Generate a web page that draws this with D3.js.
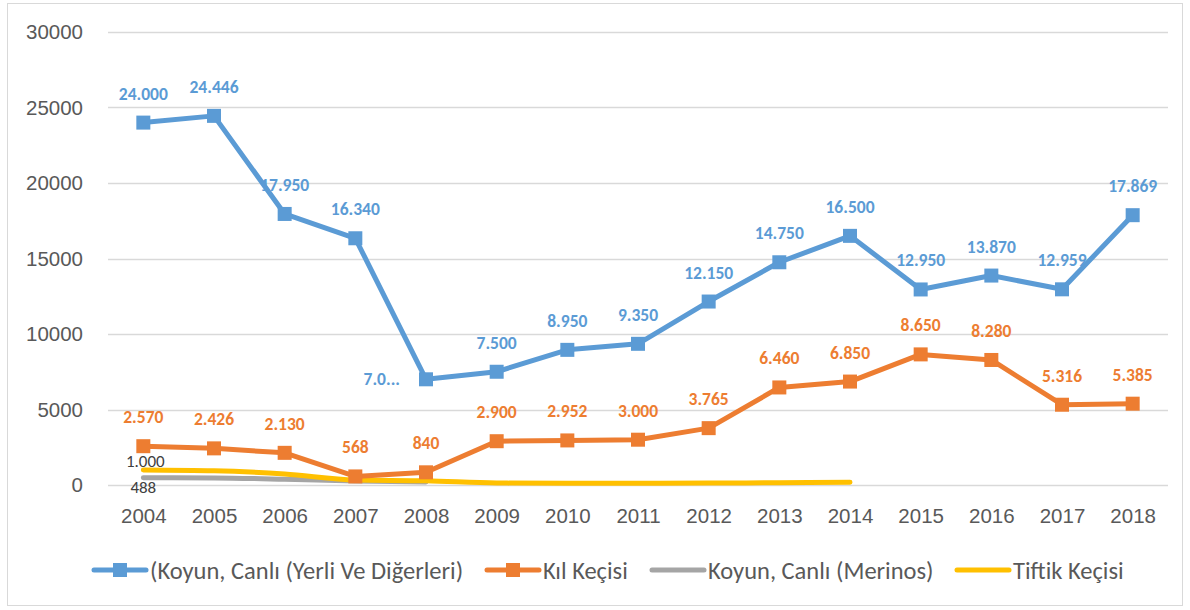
<!DOCTYPE html>
<html>
<head>
<meta charset="utf-8">
<script src="https://cdn.jsdelivr.net/npm/d3@7"></script>
<style>
  body { margin: 0; background: #fff; }
  svg { font-family: Calibri, Carlito, Lato, "Open Sans", sans-serif; }
</style>
</head>
<body>
<div id="chart"></div>
<script>

var years = ['2004','2005','2006','2007','2008','2009','2010','2011','2012','2013','2014','2015','2016','2017','2018'];
var yerli = [24000,24446,17950,16340,7000,7500,8950,9350,12150,14750,16500,12950,13870,12959,17869];
var kil = [2570,2426,2130,568,840,2900,2952,3000,3765,6460,6850,8650,8280,5316,5385];
var merinos = [488,470,380,260,200,null,null,null,null,null,null,null,null,null,null];
var tiftik = [1000,950,730,330,280,130,110,110,130,150,180,null,null,null,null];
var yTicks = [0,5000,10000,15000,20000,25000,30000];
var seriesNames = ['(Koyun, Canlı (Yerli Ve Diğerleri)','Kıl Keçisi','Koyun, Canlı (Merinos)','Tiftik Keçisi'];

var width = 1190,
	height = 610,
	plot = { left: 108, right: 1168, top: 32, bottom: 485 };

var fmt = d3.formatLocale({ decimal: ',', thousands: '.', grouping: [3], currency: ['', ''] }).format(',d');

var x = d3.scalePoint().domain(years).range([plot.left, plot.right]).padding(0.5);
var y = d3.scaleLinear().domain([0, 30000]).range([plot.bottom, plot.top]);

var svg = d3.select('#chart').append('svg')
	.attr('width', width)
	.attr('height', height);

svg.append('rect')
	.attr('x', 7.5).attr('y', 3.5)
	.attr('width', 1175).attr('height', 602)
	.attr('fill', '#fff').attr('stroke', '#d9d9d9');

// gridlines
svg.append('g').selectAll('line')
	.data(yTicks)
	.enter().append('line')
	.attr('x1', plot.left).attr('x2', plot.right)
	.attr('y1', function(d){ return Math.round(y(d)) + 0.5; })
	.attr('y2', function(d){ return Math.round(y(d)) + 0.5; })
	.attr('stroke', '#d9d9d9').attr('stroke-width', 1.5);

// y axis labels
var yAxis = svg.append('g')
	.attr('transform', 'translate(' + (plot.left - 25) + ',0)')
	.call(d3.axisLeft(y).tickValues(yTicks).tickSize(0).tickPadding(0).tickFormat(d3.format('d')));
yAxis.select('.domain').remove();
yAxis.selectAll('text').attr('font-size', 20.5).attr('fill', '#595959').attr('font-family', null);

// x axis labels
var xAxis = svg.append('g')
	.attr('transform', 'translate(0,' + (plot.bottom + 23) + ')')
	.call(d3.axisBottom(x).tickSize(0).tickPadding(0));
xAxis.select('.domain').remove();
xAxis.selectAll('text').attr('font-size', 20.5).attr('fill', '#595959').attr('font-family', null);

var line = d3.line()
	.defined(function(d){ return d != null; })
	.x(function(d, i){ return x(years[i]); })
	.y(function(d){ return y(d); });

var smooth = d3.line()
	.defined(function(d){ return d != null; })
	.curve(d3.curveMonotoneX)
	.x(function(d, i){ return x(years[i]); })
	.y(function(d){ return y(d); });

var series = [
	{ values: yerli, color: '#5b9bd5', marker: true, path: line },
	{ values: kil, color: '#ed7d31', marker: true, path: line },
	{ values: merinos, color: '#a5a5a5', marker: false, path: smooth },
	{ values: tiftik, color: '#ffc000', marker: false, path: smooth }
];

// draw order: gray, yellow under orange & blue
[2, 3, 1, 0].forEach(function(k){
	var s = series[k];
	svg.append('path')
		.attr('d', s.path(s.values))
		.attr('fill', 'none')
		.attr('stroke', s.color)
		.attr('stroke-width', 5)
		.attr('stroke-linecap', 'round')
		.attr('stroke-linejoin', 'round');
	if (s.marker) {
		svg.append('g').selectAll('rect')
			.data(s.values)
			.enter().append('rect')
			.attr('x', function(d, i){ return x(years[i]) - 7; })
			.attr('y', function(d){ return y(d) - 7; })
			.attr('width', 14).attr('height', 14)
			.attr('fill', s.color);
	}
});

// data labels
[0, 1].forEach(function(k){
	var s = series[k];
	svg.append('g').selectAll('text')
		.data(s.values)
		.enter().append('text')
		.attr('x', function(d, i){ return (k === 0 && i === 4) ? x(years[i]) - 26 : x(years[i]); })
		.attr('y', function(d, i){ return (k === 0 && i === 4) ? y(d) + 6 : y(d) - 23; })
		.attr('text-anchor', function(d, i){ return (k === 0 && i === 4) ? 'end' : 'middle'; })
		.attr('font-size', 17.5).attr('font-weight', 'bold')
		.attr('fill', s.color)
		.text(function(d, i){ return (k === 0 && i === 4) ? '7.0...' : fmt(d); });
});

svg.append('text')
	.attr('x', x(years[0]) + 2).attr('y', y(tiftik[0]) - 3)
	.attr('text-anchor', 'middle').attr('font-size', 17).attr('fill', '#404040')
	.text(fmt(tiftik[0]));
svg.append('text')
	.attr('x', x(years[0])).attr('y', y(merinos[0]) + 15)
	.attr('text-anchor', 'middle').attr('font-size', 17).attr('fill', '#404040')
	.text(fmt(merinos[0]));

// legend
var legendX = [92, 485, 650, 955];
var legend = svg.append('g').attr('transform', 'translate(0,570)');
series.forEach(function(s, k){
	var g = legend.append('g').attr('transform', 'translate(' + legendX[k] + ',0)');
	g.append('line')
		.attr('x1', 2).attr('x2', 54).attr('y1', 0).attr('y2', 0)
		.attr('stroke', s.color).attr('stroke-width', 5).attr('stroke-linecap', 'round');
	if (s.marker) {
		g.append('rect').attr('x', 21).attr('y', -7).attr('width', 14).attr('height', 14).attr('fill', s.color);
	}
	g.append('text')
		.attr('x', 58).attr('y', 8.5)
		.attr('font-size', 24.5).attr('fill', '#595959')
		.text(seriesNames[k]);
});

</script>
</body>
</html>
